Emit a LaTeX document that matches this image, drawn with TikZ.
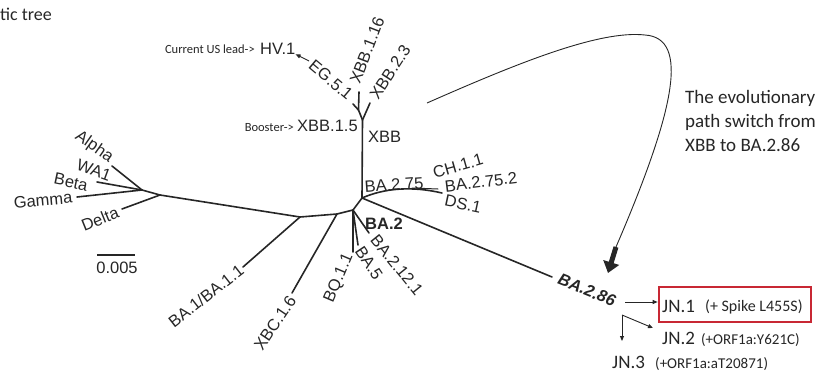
\documentclass[tikz,border=0pt]{standalone}
\usepackage{fontspec}
\newfontfamily\arialf{Liberation Sans}
\newfontfamily\calf{Carlito}
\usetikzlibrary{arrows.meta}
\definecolor{ink}{HTML}{262626}
\definecolor{boxred}{RGB}{200,40,52}
\tikzset{
  lab/.style={inner sep=0pt, text=ink, font=\arialf\fontsize{16.5}{18}\selectfont},
  note/.style={inner sep=0pt, text=ink, font=\calf\fontsize{12.5}{14}\selectfont},
  big/.style={inner sep=0pt, text=ink, font=\calf\fontsize{19}{24}\selectfont},
  mid/.style={inner sep=0pt, text=ink, font=\calf\fontsize{15}{17}\selectfont},
  br/.style={draw=ink, line width=1.6pt, line cap=round},
  smallarrow/.style={draw=ink, line width=0.9pt, -{Triangle[length=5pt,width=4pt]}},
}
\begin{document}
\begin{tikzpicture}[x=1pt,y=-1pt]
\useasboundingbox (0,0) rectangle (823,372);
% title
\node[big, anchor=base west, font=\calf\fontsize{18}{20}\selectfont] (title) at (0,20) {tic tree};
% junction coordinates
\coordinate (nAB) at (142,190);
\coordinate (nL) at (160,195);
\coordinate (nB1) at (300,217);
\coordinate (nX) at (337,214);
\coordinate (nC) at (353,210);
\coordinate (nT) at (362,198);
\coordinate (nXBB) at (362.5,120);
\coordinate (nX1) at (358.5,110);
% tips
\coordinate (tAlpha) at (112,166);
\coordinate (tBeta) at (97,182);
\coordinate (tGamma) at (77,197);
\coordinate (tDelta) at (122,209);
\coordinate (tBA1) at (243,267);
\coordinate (tXBC) at (292,293);
\coordinate (tBQ) at (353,252);
\coordinate (tBA5) at (358,245);
\coordinate (tBA212) at (369,233);
\coordinate (tBA286) at (552,277);
\coordinate (t275a) at (442,193);
\coordinate (t275b) at (438,189);
\coordinate (tX116) at (359,92);
\coordinate (tEG) at (353,104);
\coordinate (tX23) at (370,103);
% branches
\draw[br] (tAlpha) -- (nAB);
\draw[br] (tBeta) -- (nAB);
\draw[br] (tGamma) -- (nAB);
\draw[br] (nAB) -- (nL);
\draw[br] (tDelta) -- (nL);
\draw[br] (nL) -- (nB1) -- (nX) -- (nC) -- (nT);
\draw[br] (nB1) -- (tBA1);
\draw[br] (nX) -- (tXBC);
\draw[br] (nC) -- (tBQ);
\draw[br] (nC) -- (tBA5);
\draw[br] (nC) -- (tBA212);
\draw[br] (nT) -- (tBA286);
\draw[br] (nT) .. controls (385,188) and (412,186) .. (t275a);
\draw[br, line width=1pt] (412,188) -- (t275b);
\draw[br] (nT) -- (nXBB);
\draw[br] (nXBB) -- (nX1) -- (tX116);
\draw[br] (nX1) -- (tEG);
\draw[br] (nXBB) -- (tX23);
% scale bar
\coordinate (sb1) at (97,255);
\coordinate (sb2) at (135,255);
\draw[br, line width=1.8pt, line cap=butt] (sb1) -- (sb2);
\node[lab] (sbl) at (117,268) {0.005};
% labels
\node[lab, rotate=-35] (lAlpha) at (94,147) {Alpha};
\node[lab, rotate=-20] (lWA1) at (94,170) {WA1};
\node[lab, rotate=-12] (lBeta) at (71,182) {Beta};
\node[lab, rotate=5] (lGamma) at (43,200) {Gamma};
\node[lab, rotate=22] (lDelta) at (100,219) {Delta};
\node[lab, rotate=38] (lBA1) at (206,296) {BA.1/BA.1.1};
\node[lab, rotate=56] (lXBC) at (275,323) {XBC.1.6};
\node[lab, rotate=67] (lBQ) at (339,278) {BQ.1.1};
\node[lab, rotate=-56] (lBA5) at (369,263) {BA.5};
\node[lab, rotate=-51] (lBA212) at (397,265) {BA.2.12.1};
\node[lab, font=\arialf\bfseries\fontsize{16.5}{18}\selectfont] (lBA2) at (384,224) {BA.2};
\node[lab, rotate=-22, font=\arialf\bfseries\itshape\fontsize{16.5}{18}\selectfont] (lBA286) at (587,290) {BA.2.86};
\node[lab, rotate=4] (lBA275) at (394,185) {BA.2.75};
\node[lab, rotate=16] (lCH) at (458,166) {CH.1.1};
\node[lab, rotate=7] (lBA2752) at (481,182) {BA.2.75.2};
\node[lab, rotate=-12] (lDS) at (463,204) {DS.1};
\node[lab, anchor=base west] (lXBB) at (368,142) {XBB};
\node[lab, anchor=base west] (lXBB15) at (297,131) {XBB.1.5};
\node[note, anchor=base east] (lBooster) at (294,131) {Booster->};
\node[lab, rotate=69] (lX116) at (367,50) {XBB.1.16};
\node[lab, rotate=57] (lX23) at (390,72) {XBB.2.3};
\node[lab, rotate=-40] (lEG) at (331,80) {EG.5.1};
\node[lab, anchor=base west] (lHV) at (260,54) {HV.1};
\node[note, anchor=base east] (lCur) at (255,53) {Current US lead->};
\coordinate (egtail) at (309,61);
\draw[smallarrow] (egtail) -- (lHV.south east);
% evolutionary path note
\node[big, anchor=north west, align=left] (evo) at (685,90) {The evolutionary\\path switch from\\XBB to BA.2.86};
\coordinate (cs) at (427,103);
\coordinate (cp) at (645,35);
\coordinate (ce) at (616,247);
\coordinate (ctip) at (608,273);
\draw[ink, line width=0.9pt] (cs) .. controls (520,62) and (600,30) .. (cp)
   .. controls (690,38) and (675,110) .. (ce);
\draw[ink, line width=5pt, -{Triangle[length=11pt,width=16pt]}] (ce) -- (ctip);
% JN lineage
\node[draw=boxred, line width=2.6pt, minimum width=152pt, minimum height=35pt, inner sep=0pt] (jn1box) at (735,304.5) {};
\node[big, anchor=base west] (jn1) at (662,312) {JN.1};
\node[mid, anchor=base west, font=\calf\fontsize{16}{18}\selectfont] (jn1m) at (705,311) {(+ Spike L455S)};
\node[big, anchor=base west] (jn2) at (662,344) {JN.2};
\node[mid, anchor=base west] (jn2m) at (701,344) {(+ORF1a:Y621C)};
\node[big, anchor=base west] (jn3) at (612,368) {JN.3};
\node[mid, anchor=base west] (jn3m) at (655,368) {(+ORF1a:aT20871)};
\coordinate (a0) at (625,302);
\coordinate (b0) at (622,315);
\coordinate (b1) at (622,341);
\coordinate (b2) at (653,328);
\draw[smallarrow] (a0) -- (jn1box.west |- a0);
\draw[smallarrow] (b0) -- (b1);
\draw[smallarrow] (b0) -- (b2);
\end{tikzpicture}
\end{document}
